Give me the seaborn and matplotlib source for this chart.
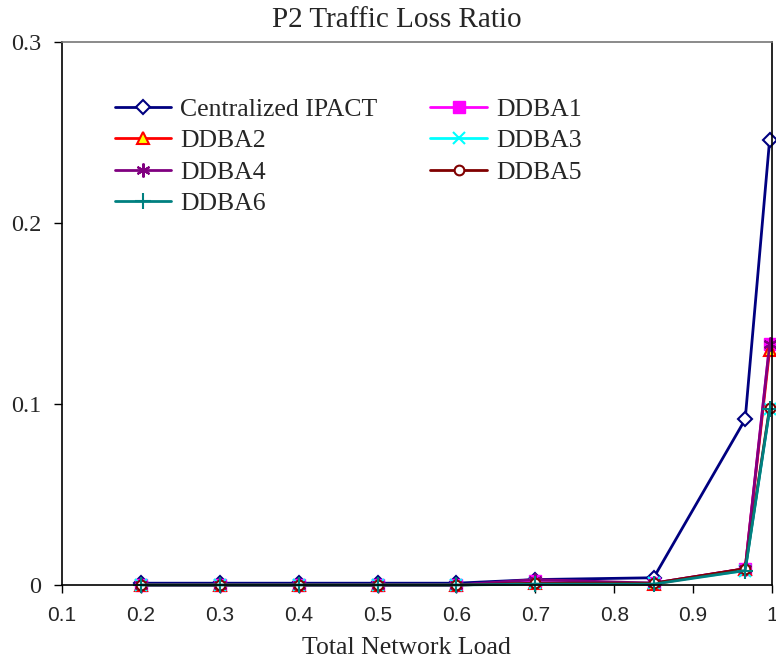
import matplotlib
matplotlib.use("Agg")
import matplotlib.pyplot as plt
import seaborn as sns
import pandas as pd

load = [0.2, 0.3, 0.4, 0.5, 0.6, 0.7, 0.85, 0.966, 0.997]
centralized_ipact = [0.001, 0.001, 0.001, 0.001, 0.001, 0.003, 0.004, 0.0915, 0.246]
ddba1 = [0.0, 0.0, 0.0, 0.0, 0.0, 0.002, 0.001, 0.009, 0.133]
ddba2 = [0.0, 0.0, 0.0, 0.0, 0.0, 0.001, 0.0005, 0.009, 0.130]
ddba3 = [0.0, 0.0, 0.0, 0.0, 0.0, 0.001, 0.001, 0.008, 0.097]
ddba4 = [0.0, 0.0, 0.0, 0.0, 0.0, 0.003, 0.001, 0.009, 0.133]
ddba5 = [0.0, 0.0, 0.0, 0.0, 0.0, 0.001, 0.001, 0.009, 0.098]
ddba6 = [0.0, 0.0, 0.0, 0.0, 0.0, 0.0005, 0.0005, 0.008, 0.097]

series_names = ["Centralized IPACT", "DDBA1", "DDBA2", "DDBA3", "DDBA4", "DDBA5", "DDBA6"]
series_vals = [centralized_ipact, ddba1, ddba2, ddba3, ddba4, ddba5, ddba6]

styles = {
    "Centralized IPACT": dict(color="#000080", marker="D", mfc="white", mec="#000080", ms=7, mew=1.5),
    "DDBA1": dict(color="#FF00FF", marker="s", mfc="#FF00FF", mec="#FF00FF", ms=8, mew=1),
    "DDBA2": dict(color="#FF0000", marker="^", mfc="#FFFF00", mec="#FF0000", ms=9, mew=1.5),
    "DDBA3": dict(color="#00FFFF", marker="x", mfc="#00FFFF", mec="#00FFFF", ms=9, mew=1.5),
    "DDBA4": dict(color="#800080", marker=(6, 2, 0), mfc="#800080", mec="#800080", ms=10, mew=1.5),
    "DDBA5": dict(color="#800000", marker="o", mfc="white", mec="#800000", ms=7, mew=1.5),
    "DDBA6": dict(color="#008080", marker="+", mfc="#008080", mec="#008080", ms=11, mew=1.5),
}

sns.set_style("white")
plt.rcParams["font.family"] = ["Liberation Serif", "DejaVu Serif"]

fig = plt.figure(figsize=(7.76, 6.62), dpi=100)
ax = fig.add_axes([62/776, 1 - 585/662, 710/776, 543/662])

for name, vals in zip(series_names, series_vals):
    df = pd.DataFrame({"load": load, "val": vals})
    st = styles[name]
    sns.lineplot(data=df, x="load", y="val", ax=ax, color=st["color"], linewidth=2,
                 marker=st["marker"], markerfacecolor=st["mfc"], markeredgecolor=st["mec"],
                 markersize=st["ms"], markeredgewidth=st["mew"], label=name, clip_on=False)

ax.set_xlim(0.1, 1.0)
ax.set_ylim(0, 0.3)
ax.set_xticks([0.1, 0.2, 0.3, 0.4, 0.5, 0.6, 0.7, 0.8, 0.9, 1.0])
ax.set_xticklabels(["0.1", "0.2", "0.3", "0.4", "0.5", "0.6", "0.7", "0.8", "0.9", "1"],
                   fontfamily="Liberation Sans", fontsize=15)
ax.set_yticks([0, 0.1, 0.2, 0.3])
ax.set_yticklabels(["0", "0.1", "0.2", "0.3"], fontsize=17.5)
ax.tick_params(axis="both", direction="out", length=6, width=1, color="black", bottom=True, left=True)
ax.tick_params(axis="x", pad=9)
ax.tick_params(axis="y", pad=9)
ax.set_xlabel("Total Network Load", fontsize=18.5, labelpad=9, x=0.485)
ax.set_ylabel("")
ax.set_title("P2 Traffic Loss Ratio", fontsize=21, pad=11, x=0.472)

for side in ["left", "right", "bottom"]:
    ax.spines[side].set_color("black")
    ax.spines[side].set_linewidth(1.2)
ax.spines["top"].set_color("#777777")
ax.spines["top"].set_linewidth(1.2)

handles, labels = ax.get_legend_handles_labels()
order = [0, 2, 4, 6, 1, 3, 5]
leg = ax.legend([handles[i] for i in order], [labels[i] for i in order],
                loc="upper left", bbox_to_anchor=(0.060, 0.916), ncol=2, frameon=False,
                fontsize=18.5, handlelength=2.2, columnspacing=2.05, labelspacing=0.33,
                handletextpad=0.35, borderaxespad=0)

fig.savefig("out.png", dpi=100)
